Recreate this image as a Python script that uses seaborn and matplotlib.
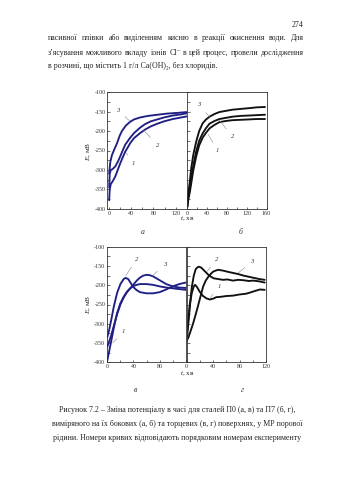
import numpy as np
import pandas as pd
import matplotlib
matplotlib.use("Agg")
import matplotlib.pyplot as plt
import seaborn as sns
from matplotlib.ticker import MultipleLocator

# ---------------- data ----------------
# panel а (P0, side surface)
a_t1 = [0, 1, 3, 6, 11, 16, 20, 25, 29, 34, 38, 45, 56, 65, 75, 87, 99, 115, 130, 141]
a_e1 = [-378, -350, -336, -330, -317, -298, -283, -266, -253, -241, -231, -218, -205, -196, -188, -181, -175, -169, -165, -162]
a_t2 = [0, 1, 3, 6, 11, 16, 20, 25, 29, 34, 38, 45, 56, 65, 75, 87, 99, 115, 130, 141]
a_e2 = [-345, -310, -300, -298, -291, -278, -265, -248, -235, -225, -217, -205, -191, -182, -175, -170, -165, -160, -157, -154]
a_t3 = [0, 2, 5, 9, 14, 19, 23, 30, 38, 45, 56, 70, 87, 105, 125, 141]
a_e3 = [-310, -280, -262, -248, -232, -212, -200, -186, -176, -170, -165, -161, -158, -155, -153, -151]

# panel б (P7, side surface)
b_t = [0, 1, 3, 5, 8, 12, 18, 24, 31, 38, 45, 55, 65, 78, 91, 108, 125, 140, 157]
b_e1 = [-395, -385, -370, -358, -334, -302, -265, -237, -217, -204, -193, -184, -177, -174, -172, -171, -170, -169, -169]
b_e2 = [-395, -378, -362, -348, -321, -290, -252, -225, -206, -192, -181, -174, -169, -166, -163, -161, -160, -159, -158]
b_e3 = [-395, -370, -350, -330, -295, -262, -227, -200, -180, -170, -163, -156, -151, -148, -145, -143, -141, -139, -138]

# panel в (P0, end surface)
c_t1 = [0, 3, 6, 10, 15, 20, 25, 30, 35, 40, 45, 50, 55, 60, 70, 80, 90, 100, 110, 120]
c_e1 = [-395, -370, -345, -310, -272, -247, -230, -217, -208, -202, -199, -197, -197, -197, -199, -203, -206, -208, -210, -212]
c_t2 = [0, 3, 6, 10, 15, 20, 25, 28, 32, 36, 40, 45, 50, 60, 70, 80, 90, 100, 110, 120]
c_e2 = [-335, -315, -290, -255, -220, -197, -184, -181, -184, -195, -205, -213, -218, -221, -221, -218, -211, -203, -197, -193]
c_t3 = [0, 3, 6, 10, 15, 20, 25, 30, 35, 40, 45, 50, 55, 60, 65, 70, 80, 90, 100, 110, 120]
c_e3 = [-360, -345, -330, -305, -275, -250, -232, -218, -208, -198, -188, -180, -175, -173, -174, -177, -187, -197, -203, -206, -207]

# panel г (P7, end surface)
d_t1 = [0, 2, 5, 8, 11, 13, 16, 20, 25, 30, 35, 40, 45, 52, 60, 70, 80, 90, 96, 103, 111, 118]
d_e1 = [-340, -300, -250, -220, -203, -199, -205, -217, -228, -234, -237, -235, -231, -230, -228, -227, -224, -222, -219, -215, -211, -212]
d_t2 = [0, 2, 5, 8, 11, 14, 17, 19, 22, 25, 29, 33, 37, 41, 48, 55, 62, 70, 78, 86, 94, 101, 110, 118]
d_e2 = [-340, -315, -256, -205, -175, -158, -153, -152, -154, -159, -166, -173, -178, -182, -184, -186, -185, -188, -186, -187, -189, -188, -190, -193]
d_t3 = [0, 3, 6, 10, 14, 17, 21, 25, 29, 33, 37, 40, 44, 48, 55, 62, 70, 78, 86, 94, 102, 110, 118]
d_e3 = [-345, -335, -320, -299, -275, -256, -230, -204, -188, -178, -170, -165, -162, -160, -162, -165, -168, -171, -175, -178, -181, -184, -186]

y_ticks = [-400, -350, -300, -250, -200, -150, -100]
curve_names = ["1", "2", "3"]

body_lines = [
    "пасивної плівки або виділенням кисню в реакції окиснення води. Для",
    "з’ясування можливого вкладу іонів Cl⁻ в цей процес, провели дослідження",
    "в розчині, що містить 1 г/л Ca(OH)₂, без хлоридів.",
]
caption_lines = [
    "Рисунок 7.2 – Зміна потенціалу в часі для сталей П0 (а, в) та П7 (б, г),",
    "виміряного на їх бокових (а, б) та торцевих (в, г) поверхнях, у МР порової",
    "рідини. Номери кривих відповідають порядковим номерам експерименту",
]
page_number = "274"

# ---------------- style ----------------
sns.set_style("ticks")
plt.rcParams["font.family"] = ["Liberation Serif", "DejaVu Serif"]
plt.rcParams["axes.unicode_minus"] = False
plt.rcParams["mathtext.fontset"] = "custom"
plt.rcParams["mathtext.it"] = "Liberation Serif:italic"
plt.rcParams["mathtext.rm"] = "Liberation Serif"

BLUE = "#1f1f86"
BLACK = "#111111"
W, H = 339, 480

fig = plt.figure(figsize=(W / 100, H / 100), dpi=100)
fig.patch.set_facecolor("white")


def rect(x0, x1, ytop, ybot):
    return [x0 / W, 1 - ybot / H, (x1 - x0) / W, (ybot - ytop) / H]


def make_df(ts, es):
    frames = []
    for name, t, e in zip(curve_names, ts, es):
        frames.append(pd.DataFrame({"t": t, "E": e, "curve": name}))
    return pd.concat(frames, ignore_index=True)


def draw(ax, df, color, xlim, xt_labels, show_y):
    sns.lineplot(data=df, x="t", y="E", hue="curve",
                 palette={n: color for n in curve_names},
                 estimator=None, sort=False, legend=False,
                 linewidth=1.35, ax=ax)
    ax.set_xlim(*xlim)
    ax.set_ylim(-400, -100)
    ax.set_xlabel("")
    ax.set_ylabel("")
    ax.set_yticks(y_ticks)
    ax.set_xticks(xt_labels)
    ax.xaxis.set_minor_locator(MultipleLocator(20))
    ax.yaxis.set_minor_locator(MultipleLocator(25))
    ax.tick_params(which="both", direction="in", length=1.8, width=0.5,
                   labelsize=4.3, pad=1.5, colors="#333333")
    if not show_y:
        ax.tick_params(axis="y", labelleft=False)
    for s in ax.spines.values():
        s.set_linewidth(0.6)
        s.set_color("#333333")


def label_curves(ax, items):
    for txt, (tx, ty), (ex, ey) in items:
        ax.annotate(txt, xy=(ex, ey), xytext=(tx, ty), textcoords="data",
                    fontsize=4.8, style="italic", ha="center", va="center",
                    color="#333333",
                    arrowprops=dict(arrowstyle="-", lw=0.4, color="#888888",
                                    shrinkA=2.0, shrinkB=0))


ax_a = fig.add_axes(rect(107.5, 187.3, 92.2, 208.8))
ax_b = fig.add_axes(rect(187.3, 266.5, 92.2, 208.8))
ax_c = fig.add_axes(rect(107.3, 186.5, 246.7, 362.3))
ax_d = fig.add_axes(rect(186.5, 266.0, 246.7, 362.3))

draw(ax_a, make_df([a_t1, a_t2, a_t3], [a_e1, a_e2, a_e3]), BLUE, (-3, 141), [0, 40, 80, 120], True)
draw(ax_b, make_df([b_t, b_t, b_t], [b_e1, b_e2, b_e3]), BLACK, (0, 160), [0, 40, 80, 120, 160], False)
draw(ax_c, make_df([c_t1, c_t2, c_t3], [c_e1, c_e2, c_e3]), BLUE, (0, 121), [0, 40, 80], True)
draw(ax_d, make_df([d_t1, d_t2, d_t3], [d_e1, d_e2, d_e3]), BLACK, (0, 120), [0, 40, 80, 120], False)

label_curves(ax_a, [("3", (16, -146), (37, -174)), ("2", (87, -236), (61, -196)), ("1", (43, -283), (31, -256))])
label_curves(ax_b, [("3", (24, -132), (45, -164)), ("2", (91, -215), (65, -172)), ("1", (61, -251), (42, -208))])
label_curves(ax_c, [("2", (45, -132), (28, -176)), ("3", (87, -146), (69, -176)), ("1", (25, -320), (8, -350))])
label_curves(ax_d, [("2", (46, -132), (31, -164)), ("3", (99, -139), (78, -168)), ("1", (50, -202), (36, -232))])


def ftext(x, y, s, **kw):
    return fig.text(x / W, 1 - y / H, s, **kw)


# axis labels and panel letters
for yc in (151, 304):
    ftext(89, yc, "$E$, мВ", rotation=90, ha="center", va="center", fontsize=5.2, color="#222222")
ftext(187, 218.5, "$t$, хв", ha="center", va="center", fontsize=5.2, color="#222222")
ftext(187, 373.5, "$t$, хв", ha="center", va="center", fontsize=5.2, color="#222222")
for x, y, s in [(143, 231.5, "а"), (241, 231.5, "б"), (135, 390, "в"), (242, 390, "г")]:
    ftext(x, y, s, ha="center", va="center", fontsize=5.6, style="italic", color="#333333")

# page text
TEXT_FS = 5.7
ftext(304, 25, page_number, ha="right", va="center", fontsize=TEXT_FS, color="#222222")

renderer = fig.canvas.get_renderer()


def justify(line, x0, x1, y, fs):
    words = line.split(" ")
    arts = [ftext(0, y, w, ha="left", va="center", fontsize=fs, color="#222222") for w in words]
    widths = [a.get_window_extent(renderer).width for a in arts]
    gap = (x1 - x0 - sum(widths)) / max(len(words) - 1, 1)
    x = x0
    for a, w in zip(arts, widths):
        a.set_x(x / W)
        x += w + gap


justify(body_lines[0], 48, 304, 37.5, TEXT_FS)
justify(body_lines[1], 48, 304, 53, TEXT_FS)
ftext(48, 66.5, body_lines[2], ha="left", va="center", fontsize=TEXT_FS, color="#222222")

for y, s in zip([410.5, 424.5, 438.5], caption_lines):
    ftext(177, y, s, ha="center", va="center", fontsize=TEXT_FS, color="#222222")

fig.savefig("out.png", dpi=100, facecolor="white")
